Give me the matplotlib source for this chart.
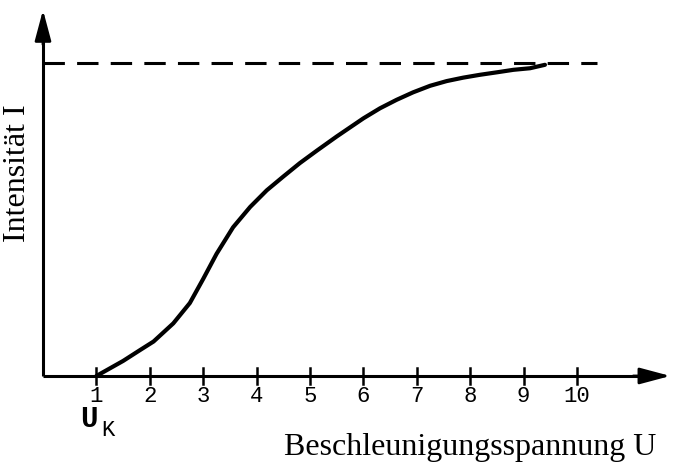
import matplotlib.pyplot as plt

# values
U = [1.0, 1.5, 1.82, 2.07, 2.44, 2.75, 3.0, 3.25, 3.56, 3.88, 4.19, 4.5, 4.81, 5.13, 5.5,
     6.0, 6.31, 6.62, 6.93, 7.25, 7.56, 7.87, 8.18, 8.5, 8.81, 9.12, 9.4]
I = [0.0, 0.048, 0.083, 0.110, 0.168, 0.233, 0.31, 0.39, 0.475, 0.54, 0.593, 0.637, 0.68,
     0.72, 0.765, 0.823, 0.855, 0.882, 0.906, 0.927, 0.942, 0.953, 0.962, 0.970, 0.978,
     0.983, 0.994]
ticks = [1, 2, 3, 4, 5, 6, 7, 8, 9, 10]
I_sat = 1.0

fig = plt.figure(figsize=(6.75, 4.68), dpi=100)
ax = fig.add_axes([0, 0, 1, 1])
ax.set_xlim(-0.805, 11.835)
ax.set_ylim(-0.294, 1.201)
ax.axis('off')

# axes with arrowheads
ax.plot([0, 0], [0, 1.1], color='k', lw=2.2, solid_capstyle='butt')
ax.plot([0, 11.3], [0, 0], color='k', lw=2.2, solid_capstyle='butt')
head = dict(arrowstyle='-|>,head_length=0.75,head_width=0.2', color='k', lw=2, mutation_scale=25)
ax.annotate('', xy=(0, 1.178), xytext=(0, 1.05), arrowprops=head)
ax.annotate('', xy=(11.8, 0), xytext=(11.0, 0), arrowprops=head)

# ticks and labels
for t in ticks:
    ax.plot([t, t], [-0.025, 0.025], color='k', lw=1.8)
    ax.text(t, -0.067, str(t), ha='center', va='center', fontsize=16, family='Liberation Mono')

# saturation line and curve
ax.plot([0, 10.37], [I_sat, I_sat], color='k', lw=2.2, dashes=(7, 4))
ax.plot(U, I, color='k', lw=3, solid_capstyle='round', solid_joinstyle='round')

ax.text(0.86, -0.137, 'U', ha='center', va='center', fontsize=21, family='Liberation Mono',
        weight='bold')
ax.text(1.21, -0.175, 'K', ha='center', va='center', fontsize=16, family='Liberation Mono')

ax.text(8.0, -0.228, 'Beschleunigungsspannung U', ha='center', va='center', fontsize=23,
        family='Liberation Serif')
ax.text(-0.47, 0.649, 'Intensität I', ha='center', va='center', fontsize=23,
        family='Liberation Serif', rotation=90)

fig.savefig('out.png', dpi=100)
